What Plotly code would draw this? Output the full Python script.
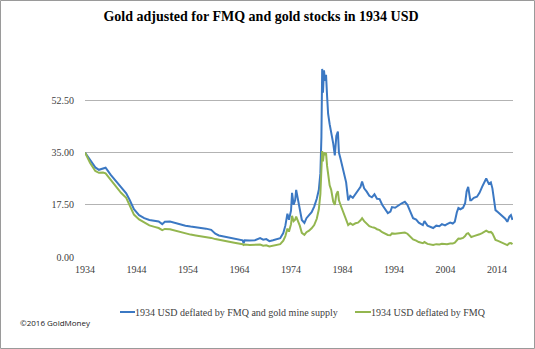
import plotly.graph_objects as go

title_text = "Gold adjusted for FMQ and gold stocks in 1934 USD"
series_blue_name = "1934 USD deflated by FMQ and gold mine supply"
series_green_name = "1934 USD deflated by FMQ"

years = [
    1934.0, 1935.0, 1936.0, 1936.7, 1937.5, 1938.0, 1939.0, 1940.0, 1941.0, 1942.0,
    1942.7, 1943.5, 1944.5, 1945.5, 1946.5, 1947.5, 1948.3, 1949.0, 1949.5, 1950.5,
    1951.5, 1952.5, 1953.5, 1954.5, 1955.5, 1956.5, 1957.5, 1958.5, 1959.3, 1960.0,
    1961.0, 1962.0, 1963.0, 1964.0, 1964.6, 1964.8, 1965.0, 1966.0, 1967.0, 1968.0,
    1968.6, 1969.2, 1969.8, 1970.5, 1971.3, 1971.9, 1972.5, 1972.9, 1973.3, 1973.6,
    1974.0, 1974.2, 1974.5, 1974.8, 1975.0, 1975.3, 1975.7, 1976.1, 1976.6, 1977.0,
    1977.5, 1978.0, 1978.5, 1979.0, 1979.4, 1979.7, 1979.9, 1980.05, 1980.2, 1980.4,
    1980.6, 1980.8, 1981.0, 1981.2, 1981.5, 1981.8, 1982.2, 1982.5, 1982.8, 1983.1,
    1983.3, 1983.6, 1983.9, 1984.3, 1984.7, 1985.1, 1985.5, 1986.0, 1986.5, 1987.0,
    1987.5, 1987.8, 1988.2, 1988.7, 1989.2, 1989.7, 1990.2, 1990.7, 1991.2, 1991.7,
    1992.3, 1992.8, 1993.3, 1993.6, 1994.2, 1994.8, 1995.5, 1996.1, 1996.6, 1997.2,
    1997.7, 1998.3, 1998.8, 1999.6, 1999.9, 2000.5, 2001.1, 2001.6, 2002.2, 2002.8,
    2003.3, 2003.9, 2004.3, 2004.9, 2005.4, 2005.8, 2006.2, 2006.5, 2006.9, 2007.4,
    2007.8, 2008.1, 2008.4, 2008.8, 2009.0, 2009.5, 2010.1, 2010.6, 2011.1, 2011.6,
    2011.9, 2012.4, 2012.8, 2013.1, 2013.4, 2013.7, 2014.2, 2014.7, 2015.2, 2015.6,
    2016.0, 2016.4, 2016.7, 2017.0,
]

fmq_mine = [
    35.0, 32.5, 30.0, 29.2, 29.8, 29.9, 27.5, 25.3, 23.3, 21.3,
    19.0, 16.0, 14.0, 13.0, 12.4, 12.1, 11.9, 11.0, 11.8, 11.9,
    11.4, 10.9, 10.5, 10.2, 10.0, 9.8, 9.5, 9.1, 7.8, 7.2,
    6.8, 6.5, 6.1, 5.8, 5.6, 4.6, 5.6, 5.5, 5.6, 6.3,
    5.8, 6.0, 5.3, 5.6, 5.9, 6.3, 8.0, 10.5, 14.5, 12.5,
    15.5, 21.5, 17.5, 19.0, 22.5, 19.5, 16.0, 12.4, 11.4, 13.0,
    14.0, 15.0, 16.9, 19.5, 22.5, 28.0, 40.0, 63.0, 55.0, 62.5,
    59.0, 61.0, 54.0, 48.0, 44.5, 42.0, 38.0, 34.0, 40.5, 42.0,
    35.0, 33.0, 30.5, 28.0, 25.0, 19.0, 20.5, 19.8, 21.0, 22.5,
    23.5, 25.3, 23.0, 21.9, 20.5, 20.0, 21.0, 19.5, 19.4, 17.5,
    16.0, 14.7, 15.2, 16.7, 16.5, 17.3, 18.0, 18.5, 17.5, 15.0,
    13.0, 12.5, 11.5, 10.7, 12.0, 10.5, 10.0, 9.7, 10.5, 10.3,
    11.0, 10.6, 11.0, 11.5, 11.2, 11.8, 15.0, 16.4, 16.0, 16.5,
    18.0, 22.0, 23.5, 19.0, 19.0, 19.8, 20.2, 21.5, 23.5, 25.0,
    26.3, 24.5, 25.0, 23.0, 19.0, 15.7, 15.0, 14.2, 13.5, 12.8,
    11.8, 13.5, 14.0, 12.4,
]

fmq_only = [
    35.0, 31.5, 28.8, 28.2, 28.3, 28.0, 25.8, 23.6, 21.5, 19.8,
    17.0, 14.2, 12.6, 11.5, 10.6, 10.1, 9.7, 9.0, 9.4, 9.3,
    8.8, 8.3, 7.9, 7.5, 7.2, 7.0, 6.7, 6.4, 6.0, 5.7,
    5.4, 5.1, 4.8, 4.5, 4.3, 4.0, 4.2, 4.0, 4.0, 4.2,
    3.8, 3.9, 3.5, 3.7, 4.0, 4.3, 5.5, 7.0, 9.5, 8.5,
    11.0, 13.8, 12.0, 12.5, 13.5, 12.3, 10.5, 8.1, 7.4, 8.3,
    8.8, 9.6, 10.7, 12.8, 16.0, 21.0, 28.0, 35.5, 32.0, 35.0,
    34.5, 34.8, 30.5, 28.0, 24.0, 22.5, 18.5, 17.5, 21.0, 22.0,
    19.0, 17.5, 16.0, 14.5, 12.5, 10.7, 11.3, 10.8, 11.3, 11.5,
    12.3, 13.0, 12.0, 11.0, 10.3, 10.0, 9.8, 9.3, 9.0, 8.3,
    7.8, 7.4, 7.3, 7.9, 7.8, 8.0, 8.1, 8.2, 7.8, 6.8,
    5.9, 5.5, 5.0, 4.6, 5.0, 4.4, 4.2, 4.0, 4.3, 4.2,
    4.4, 4.3, 4.3, 4.5, 4.5, 4.8, 5.8, 6.2, 6.1, 6.4,
    7.0, 7.8, 8.0, 6.8, 6.7, 7.0, 7.2, 7.6, 8.0, 8.5,
    8.8, 8.3, 8.4, 7.9, 6.6, 5.7, 5.4, 5.0, 4.7, 4.4,
    4.0, 4.6, 4.7, 4.3,
]

x_ticks = [1934, 1944, 1954, 1964, 1974, 1984, 1994, 2004, 2014]
y_ticks = [0, 17.5, 35, 52.5]
y_tick_labels = ["0.00", "17.50", "35.00", "52.50"]

W, H = 535, 349
ML, MR, MT, MB = 85, 22, 48, 92
PW, PH = W - ML - MR, H - MT - MB

BLUE, GREEN = "#3b78c3", "#93b64f"
serif = "Liberation Serif"


def px_x(p):
    return (p - ML) / PW


def px_y(p):
    return (H - MB - p) / PH


fig = go.Figure()
fig.add_trace(go.Scatter(x=years, y=fmq_mine, mode="lines", name=series_blue_name,
                         line=dict(color=BLUE, width=2), showlegend=False))
fig.add_trace(go.Scatter(x=years, y=fmq_only, mode="lines", name=series_green_name,
                         line=dict(color=GREEN, width=2), showlegend=False))

legend_y = 312
annotations = [
    dict(text="©2016 GoldMoney", xref="paper", yref="paper",
         x=px_x(18), y=px_y(322), xanchor="left", yanchor="middle",
         showarrow=False, font=dict(family="Open Sans", size=8, color="#222222")),
    dict(text=series_blue_name, xref="paper", yref="paper",
         x=px_x(133), y=px_y(legend_y), xanchor="left", yanchor="middle",
         showarrow=False, font=dict(family=serif, size=10, color="#404040")),
    dict(text=series_green_name, xref="paper", yref="paper",
         x=px_x(369), y=px_y(legend_y), xanchor="left", yanchor="middle",
         showarrow=False, font=dict(family=serif, size=10, color="#404040")),
]
shapes = [
    dict(type="line", xref="paper", yref="paper", x0=px_x(120), x1=px_x(135),
         y0=px_y(legend_y), y1=px_y(legend_y), line=dict(color=BLUE, width=2)),
    dict(type="line", xref="paper", yref="paper", x0=px_x(355), x1=px_x(371),
         y0=px_y(legend_y), y1=px_y(legend_y), line=dict(color=GREEN, width=2)),
    dict(type="rect", xref="paper", yref="paper",
         x0=px_x(0.5), x1=px_x(534.5), y0=px_y(348.5), y1=px_y(0.5),
         line=dict(color="#9a9a9a", width=1), layer="above"),
]

fig.update_layout(
    width=W, height=H,
    margin=dict(l=ML, r=MR, t=MT, b=MB),
    paper_bgcolor="white", plot_bgcolor="white",
    title=dict(text="<b>" + title_text + "</b>", x=261 / W, xanchor="center",
               y=1 - 16 / H, yanchor="middle",
               font=dict(family=serif, size=14, color="#000000")),
    showlegend=False,
    xaxis=dict(range=[1934, 2017.1], tickvals=x_ticks, ticktext=[str(v) for v in x_ticks],
               showgrid=False, zeroline=False, showline=False,
               tickfont=dict(family=serif, size=10, color="#404040"), ticks="",
               ticklabelstandoff=5),
    yaxis=dict(range=[0, 70], tickvals=y_ticks, ticktext=y_tick_labels,
               showgrid=True, gridcolor="#b3b3b3", gridwidth=1, zeroline=False, showline=False,
               tickfont=dict(family=serif, size=10, color="#404040"), ticks="",
               ticklabelstandoff=10),
    annotations=annotations,
    shapes=shapes,
)

fig.write_html("out.html")
